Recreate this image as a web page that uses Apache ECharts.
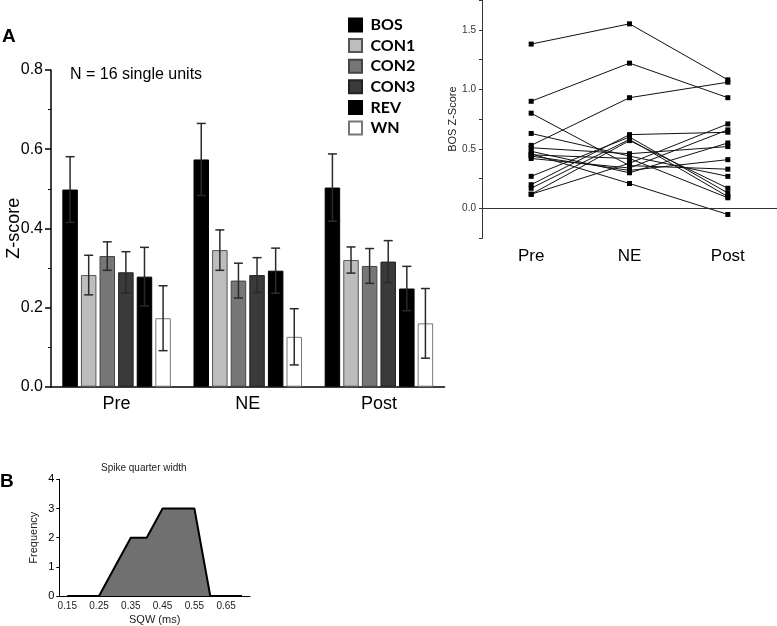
<!DOCTYPE html>
<html>
<head>
<meta charset="utf-8">
<script src="https://cdn.jsdelivr.net/npm/echarts@6/dist/echarts.min.js"></script>
<style>
  html, body { margin: 0; padding: 0; background: #fff; }
  #chart { width: 777px; height: 626px; }
</style>
</head>
<body>
<div id="chart"></div>
<script>
// ---- panel A, bar chart ----
const phases = ["Pre", "NE", "Post"];
const conditions = ["BOS", "CON1", "CON2", "CON3", "REV", "WN"];
const bosMean = [0.498, 0.574, 0.503];
const con1Mean = [0.282, 0.345, 0.320];
const con2Mean = [0.330, 0.268, 0.305];
const con3Mean = [0.289, 0.282, 0.316];
const revMean = [0.278, 0.293, 0.248];
const wnMean = [0.173, 0.126, 0.160];
const bosErr = [0.083, 0.091, 0.085];
const con1Err = [0.050, 0.051, 0.033];
const con2Err = [0.036, 0.044, 0.044];
const con3Err = [0.052, 0.044, 0.053];
const revErr = [0.074, 0.057, 0.056];
const wnErr = [0.082, 0.071, 0.088];

// ---- panel A, per-unit BOS z-scores (16 units) ----
const preScores = [1.38, 0.90, 0.53, 0.80, 0.63, 0.51, 0.48, 0.46, 0.44, 0.42, 0.27, 0.20, 0.17, 0.12, 0.12, 0.45];
const neScores = [1.55, 1.22, 0.93, 0.36, 0.44, 0.46, 0.30, 0.21, 0.32, 0.34, 0.60, 0.62, 0.58, 0.57, 0.38, 0.42];
const postScores = [1.08, 0.93, 1.06, 0.33, 0.27, 0.52, 0.55, -0.05, 0.41, 0.66, 0.13, 0.64, 0.10, 0.17, 0.71, 0.09];

// ---- panel B, spike quarter width histogram ----
const sqwBins = ["0.15", "0.20", "0.25", "0.30", "0.35", "0.40", "0.45", "0.50", "0.55", "0.60", "0.65", "0.70"];
const sqwCounts = [0, 0, 0, 1, 2, 2, 3, 3, 3, 0, 0, 0];

const means = [bosMean, con1Mean, con2Mean, con3Mean, revMean, wnMean];
const errs = [bosErr, con1Err, con2Err, con3Err, revErr, wnErr];
const barFill = ["#000000", "#bdbdbd", "#777777", "#3a3a3a", "#000000", "#ffffff"];
const barBorder = ["#000000", "#555555", "#444444", "#222222", "#000000", "#777777"];

const BAR_W = 15.5;
const BAR_STEP = BAR_W * 1.2;
const FONT = "Liberation Sans";

const chart = echarts.init(document.getElementById("chart"));

const barSeries = conditions.map((name, i) => ({
  name: name,
  type: "bar",
  xAxisIndex: 0,
  yAxisIndex: 0,
  barWidth: BAR_W,
  barGap: "20%",
  data: means[i],
  itemStyle: { color: barFill[i], borderColor: barBorder[i], borderWidth: 1 }
}));

const errData = [];
conditions.forEach((name, s) => {
  phases.forEach((p, c) => {
    errData.push([c, s, means[s][c], errs[s][c]]);
  });
});

const errSeries = {
  type: "custom",
  xAxisIndex: 0,
  yAxisIndex: 0,
  silent: true,
  encode: { x: 0, y: 2 },
  data: errData,
  z: 5,
  renderItem(params, api) {
    const c = api.value(0), s = api.value(1), m = api.value(2), e = api.value(3);
    const mid = api.coord([c, m]);
    const x = mid[0] + (s - 2.5) * BAR_STEP;
    const top = api.coord([c, m + e])[1];
    const bot = api.coord([c, m - e])[1];
    const cap = 4.5;
    const st = { stroke: "#2a2a2a", lineWidth: 1.5 };
    return {
      type: "group",
      children: [
        { type: "line", shape: { x1: x, y1: top, x2: x, y2: bot }, style: st },
        { type: "line", shape: { x1: x - cap, y1: top, x2: x + cap, y2: top }, style: st },
        { type: "line", shape: { x1: x - cap, y1: bot, x2: x + cap, y2: bot }, style: st }
      ]
    };
  }
};

const unitSeries = preScores.map((v, i) => ({
  type: "line",
  xAxisIndex: 1,
  yAxisIndex: 1,
  data: [preScores[i], neScores[i], postScores[i]],
  symbol: "rect",
  symbolSize: 5,
  showSymbol: true,
  lineStyle: { color: "#111", width: 1 },
  itemStyle: { color: "#000" },
  silent: true
}));

const histSeries = {
  type: "line",
  xAxisIndex: 2,
  yAxisIndex: 2,
  data: sqwCounts,
  symbol: "none",
  lineStyle: { color: "#000", width: 2 },
  areaStyle: { color: "#707070", opacity: 1 },
  silent: true
};

const option = {
  animation: false,
  backgroundColor: "#fff",
  textStyle: { fontFamily: FONT },
  legend: {
    data: conditions,
    orient: "vertical",
    left: 348,
    top: 17,
    padding: 0,
    icon: "rect",
    itemWidth: 13,
    itemHeight: 13,
    itemGap: 4.6,
    selectedMode: false,
    textStyle: { fontFamily: "Lato", fontWeight: "bold", fontSize: 16, color: "#000", padding: [0, 0, 0, 3.5] }
  },
  grid: [
    { left: 51, top: 70, width: 393.5, height: 316.7, outerBoundsMode: "none" },
    { left: 482, top: 0, width: 295, height: 238.3, outerBoundsMode: "none" },
    { left: 59.3, top: 479.3, width: 190.7, height: 116.7, outerBoundsMode: "none" }
  ],
  xAxis: [
    {
      type: "category", gridIndex: 0, data: phases,
      axisLine: { lineStyle: { color: "#000", width: 1.5 } },
      axisTick: { show: false },
      axisLabel: { color: "#000", fontSize: 18, margin: 8, fontFamily: FONT }
    },
    {
      type: "category", gridIndex: 1, data: phases, boundaryGap: true,
      axisLine: { lineStyle: { color: "#333", width: 1 } },
      axisTick: { show: false },
      axisLabel: { color: "#000", fontSize: 17, margin: 10, fontFamily: FONT }
    },
    {
      type: "category", gridIndex: 2, data: sqwBins, boundaryGap: true,
      name: "SQW (ms)", nameLocation: "middle", nameGap: 18,
      nameTextStyle: { color: "#222", fontSize: 11, fontFamily: FONT },
      axisLine: { lineStyle: { color: "#000", width: 1 } },
      axisTick: { show: false },
      axisLabel: { color: "#222", fontSize: 10, margin: 5, interval: 1, fontFamily: FONT }
    }
  ],
  yAxis: [
    {
      type: "value", gridIndex: 0, min: 0, max: 0.8, interval: 0.2,
      name: "Z-score", nameLocation: "middle", nameGap: 28, nameRotate: 90, nameMoveOverlap: false,
      nameTextStyle: { color: "#000", fontSize: 18, fontFamily: FONT },
      axisLine: { show: true, lineStyle: { color: "#000", width: 1.5 } },
      axisTick: { show: true, length: 6, lineStyle: { color: "#000", width: 1.5 } },
      minorTick: { show: true, splitNumber: 2, length: 3, lineStyle: { color: "#000", width: 1 } },
      splitLine: { show: false },
      axisLabel: { color: "#000", fontSize: 16, margin: 8, formatter: v => v.toFixed(1), fontFamily: FONT }
    },
    {
      type: "value", gridIndex: 1, min: -0.25, max: 1.75, interval: 0.25,
      name: "BOS Z-Score", nameLocation: "middle", nameGap: 24, nameRotate: 90, nameMoveOverlap: false,
      nameTextStyle: { color: "#222", fontSize: 11, fontFamily: FONT },
      axisLine: { show: true, lineStyle: { color: "#333", width: 1 } },
      axisTick: { show: true, length: 3, lineStyle: { color: "#333" } },
      splitLine: { show: false },
      axisLabel: {
        color: "#333", fontSize: 10, margin: 6, fontFamily: FONT,
        formatter: v => (Math.abs(v * 2 - Math.round(v * 2)) < 1e-6 && v >= 0 && v <= 1.5) ? v.toFixed(1) : ""
      }
    },
    {
      type: "value", gridIndex: 2, min: 0, max: 4, interval: 1,
      name: "Frequency", nameLocation: "middle", nameGap: 20, nameRotate: 90, nameMoveOverlap: false,
      nameTextStyle: { color: "#222", fontSize: 11, fontFamily: FONT },
      axisLine: { show: true, lineStyle: { color: "#000", width: 1 } },
      axisTick: { show: true, length: 3, lineStyle: { color: "#000" } },
      splitLine: { show: false },
      axisLabel: { color: "#000", fontSize: 11, margin: 5, fontFamily: FONT }
    }
  ],
  graphic: [
    { type: "text", left: 2, top: 27, style: { text: "A", fontSize: 19, fontWeight: "bold", fill: "#000", fontFamily: FONT } },
    { type: "text", left: 0, top: 472, style: { text: "B", fontSize: 19, fontWeight: "bold", fill: "#000", fontFamily: FONT } },
    { type: "text", left: 70, top: 67, style: { text: "N = 16 single units", fontSize: 16, fill: "#000", fontFamily: FONT } },
    { type: "text", left: 101, top: 463, style: { text: "Spike quarter width", fontSize: 10, fill: "#222", fontFamily: FONT } }
  ],
  series: [...barSeries, errSeries, ...unitSeries, histSeries]
};

chart.setOption(option);
</script>
</body>
</html>
